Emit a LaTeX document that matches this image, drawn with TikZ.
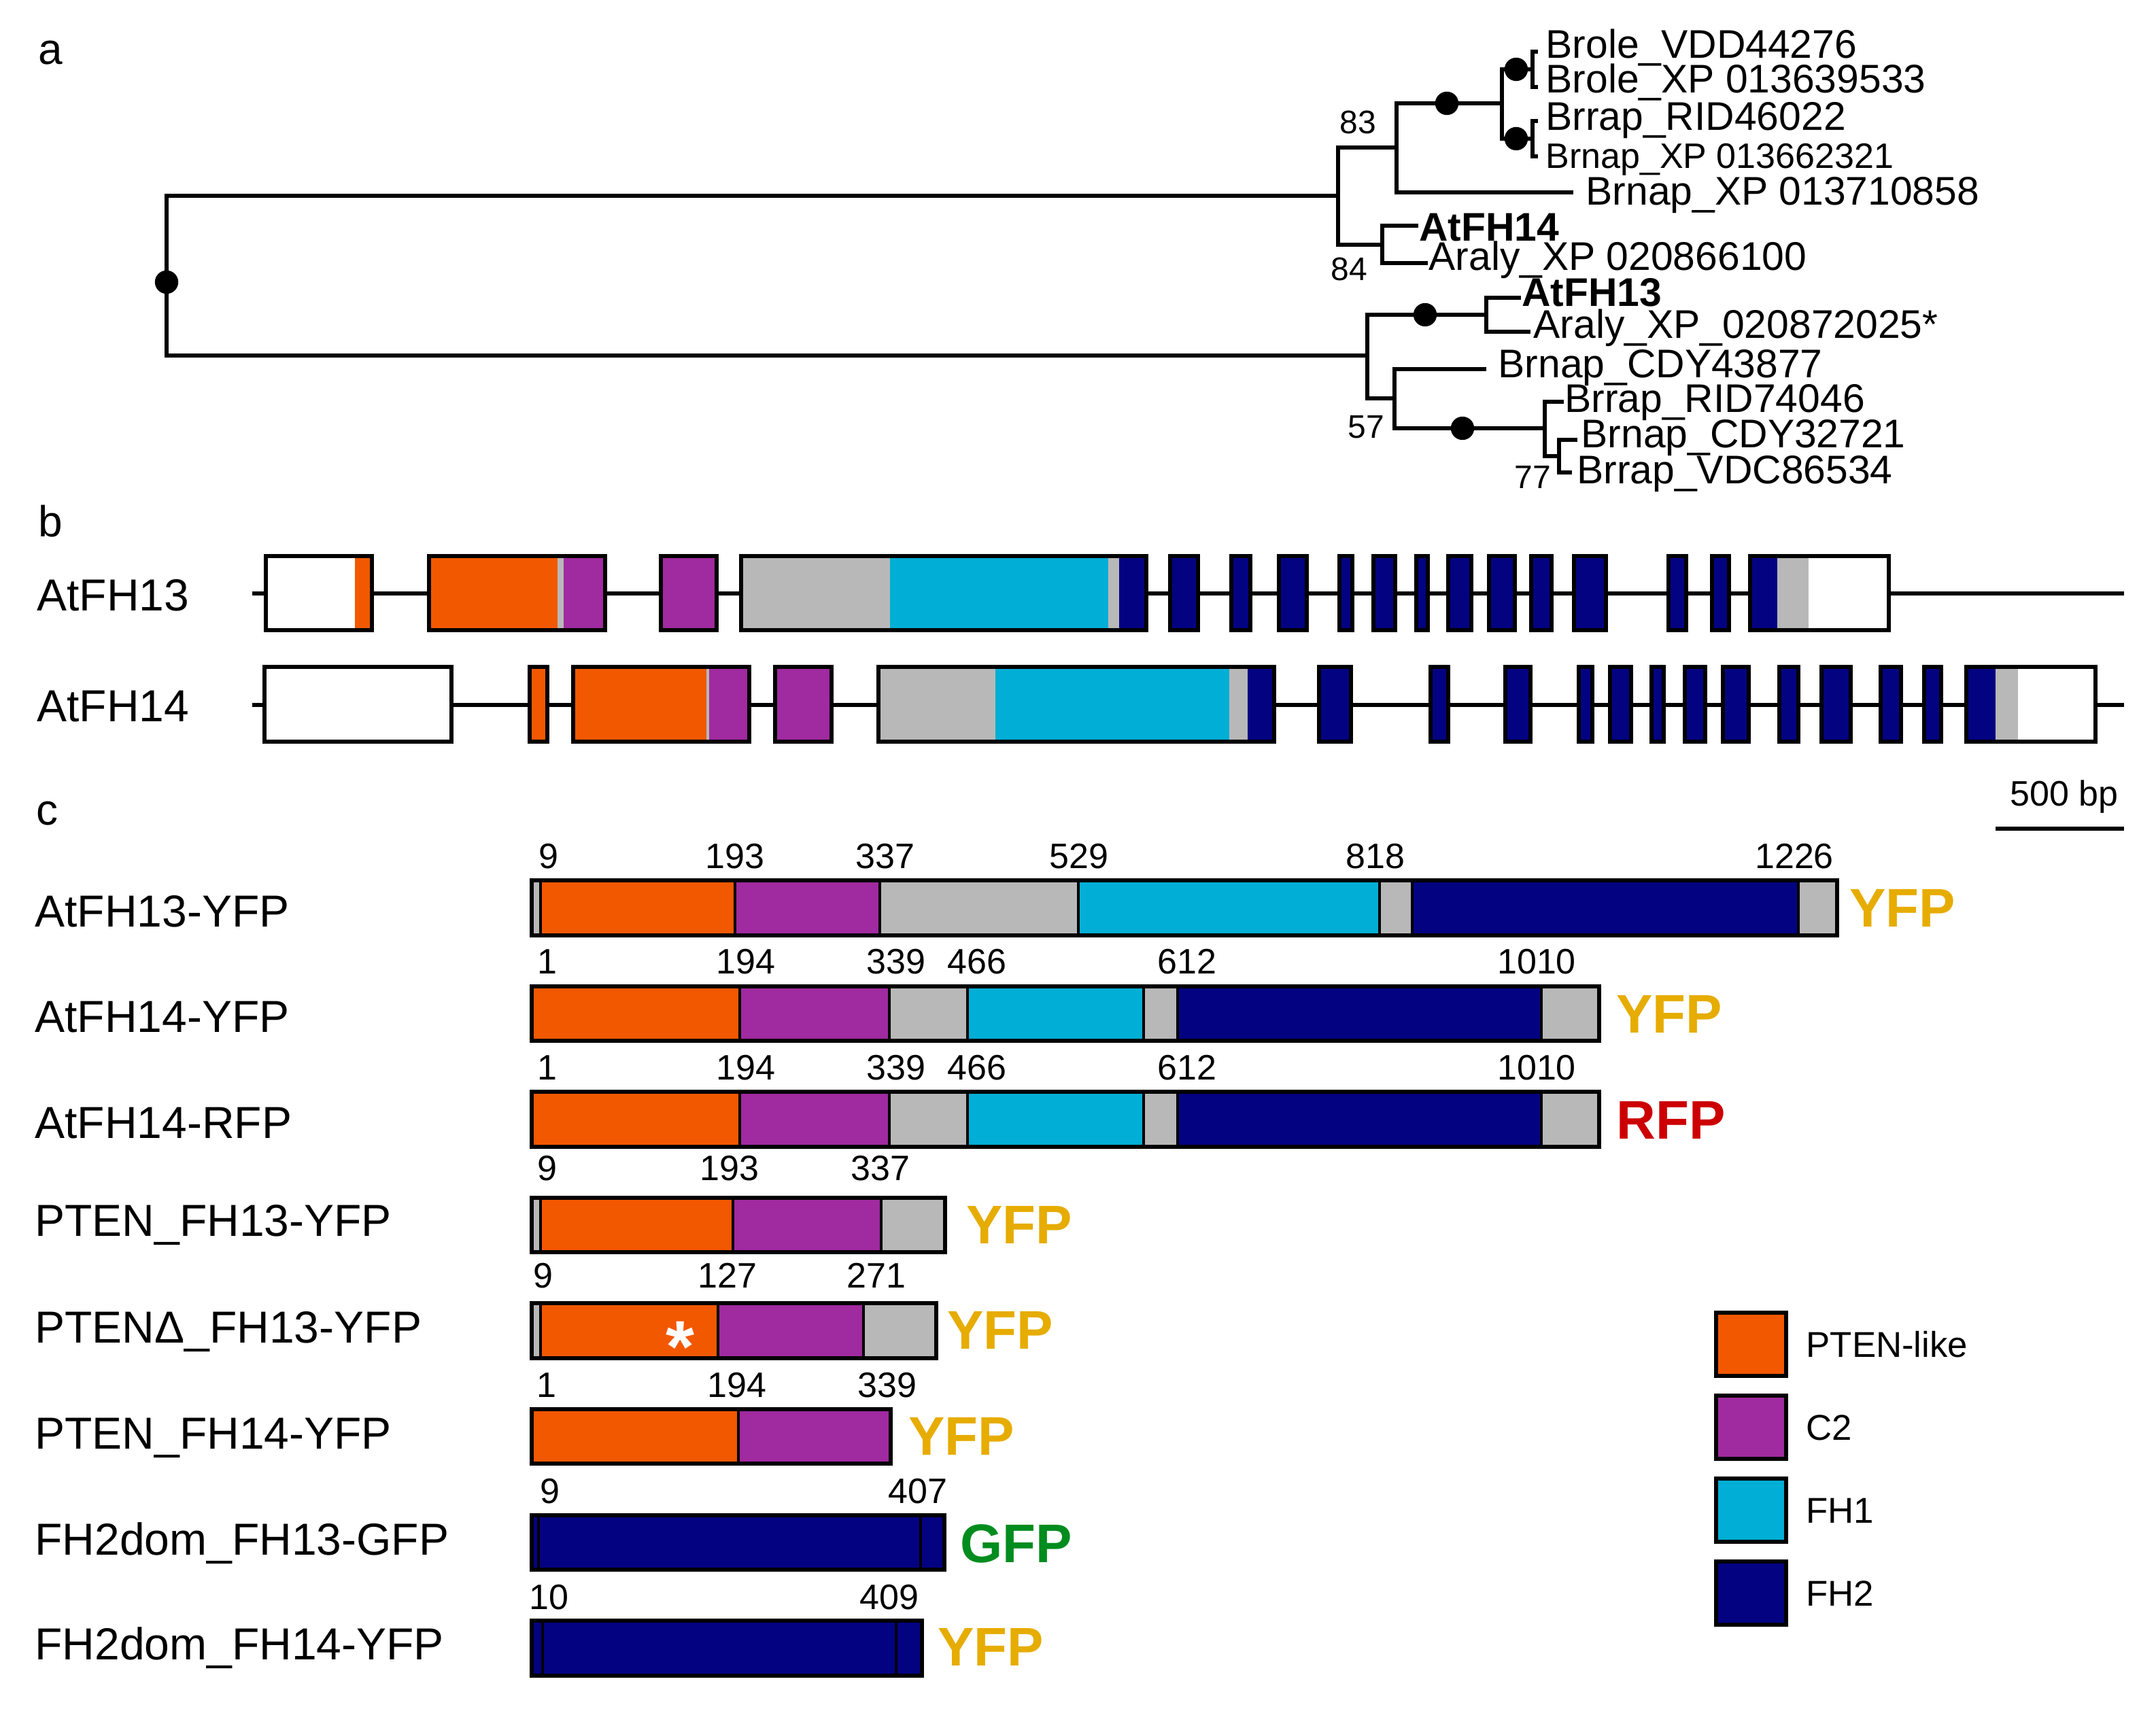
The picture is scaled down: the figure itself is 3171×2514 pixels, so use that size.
\documentclass[tikz,border=0pt]{standalone}
\usepackage{fontspec}
\setmainfont{Liberation Sans}

\definecolor{ptenorange}{RGB}{242,88,0}
\definecolor{ctwopurple}{RGB}{160,42,160}
\definecolor{linkgray}{RGB}{184,184,184}
\definecolor{fhonecyan}{RGB}{0,174,214}
\definecolor{fhtwonavy}{RGB}{3,3,130}
\definecolor{yfpgold}{RGB}{230,172,0}
\definecolor{rfpred}{RGB}{204,0,0}
\definecolor{gfpgreen}{RGB}{0,140,30}

\tikzset{every picture/.style={line width=0.75pt}}
\tikzset{
  branch/.style={line width=1.6pt},
  bsdot/.style={circle,fill=black,inner sep=0pt,minimum size=8.6pt},
  taxon/.style={anchor=base west,inner sep=0pt,font=\fontsize{14.7}{17}\selectfont},
  boot/.style={anchor=center,inner sep=0pt,font=\fontsize{12}{14}\selectfont},
  panel/.style={anchor=base west,inner sep=0pt,font=\fontsize{16}{19}\selectfont},
  rowlbl/.style={anchor=base west,inner sep=0pt,font=\fontsize{16.5}{19}\selectfont},
  intron/.style={line width=1.5pt},
  exon/.style={draw=black,line width=1.4pt},
  seg/.style={draw=black,line width=1.1pt},
  barframe/.style={draw=black,line width=1.6pt},
  resnum/.style={anchor=base,inner sep=0pt,font=\fontsize{13}{15}\selectfont},
  tag/.style={anchor=base west,inner sep=0pt,font=\fontsize{20}{24}\selectfont\bfseries},
  keybox/.style={draw=black,line width=1.6pt},
  keylbl/.style={anchor=base west,inner sep=0pt,font=\fontsize{13.2}{15}\selectfont},
}

\begin{document}
\begin{tikzpicture}[x=0.25pt,y=0.25pt,yscale=-1,xscale=1]
\useasboundingbox (0,0) rectangle (3171,2514);

%Panel letters
\draw (55,95) node [panel] (pa) {a};
\draw (55,789) node [panel] (pb) {b};
\draw (52,1213) node [panel] (pc) {c};

%Tree: internal nodes
\coordinate (root) at (245,415);
\coordinate (n84) at (1968,288);
\coordinate (n83) at (2054,217);
\coordinate (nbr) at (2209,152);
\coordinate (pr1) at (2254,102);
\coordinate (pr2) at (2254,204);
\coordinate (nat14) at (2033,360);
\coordinate (n57p) at (2011,523);
\coordinate (nat13) at (2186,463);
\coordinate (n57) at (2051,586);
\coordinate (nrid) at (2272,630);
\coordinate (n77) at (2293,671);
%Tree: tips
\coordinate (lvdd) at (2262,76);
\coordinate (lbxp) at (2262,128);
\coordinate (lrid46) at (2262,178);
\coordinate (lxp6623) at (2262,230);
\coordinate (lxp7108) at (2314,283);
\coordinate (lat14) at (2086,332);
\coordinate (lara1) at (2100,387);
\coordinate (lat13) at (2237,438);
\coordinate (lara2) at (2251,488);
\coordinate (lcdy438) at (2186,543);
\coordinate (lrid74) at (2300,591);
\coordinate (lcdy327) at (2320,647);
\coordinate (lvdc) at (2312,695);

\draw [branch] (root) |- (n84);
\draw [branch] (root) |- (n57p);
\draw [branch] (n84) |- (n83);
\draw [branch] (n84) |- (nat14);
\draw [branch] (n83) |- (nbr);
\draw [branch] (n83) |- (lxp7108);
\draw [branch] (nbr) |- (pr1);
\draw [branch] (nbr) |- (pr2);
\draw [branch] (pr1) |- (lvdd);
\draw [branch] (pr1) |- (lbxp);
\draw [branch] (pr2) |- (lrid46);
\draw [branch] (pr2) |- (lxp6623);
\draw [branch] (nat14) |- (lat14);
\draw [branch] (nat14) |- (lara1);
\draw [branch] (n57p) |- (nat13);
\draw [branch] (n57p) |- (n57);
\draw [branch] (nat13) |- (lat13);
\draw [branch] (nat13) |- (lara2);
\draw [branch] (n57) |- (lcdy438);
\draw [branch] (n57) |- (nrid);
\draw [branch] (nrid) |- (lrid74);
\draw [branch] (nrid) |- (n77);
\draw [branch] (n77) |- (lcdy327);
\draw [branch] (n77) |- (lvdc);

%Support dots
\node [bsdot] (droot) at (root) {};
\node [bsdot] (dbr) at (2128,152) {};
\node [bsdot] (dpr1) at (2230,102) {};
\node [bsdot] (dpr2) at (2230,204) {};
\node [bsdot] (dat13) at (2096,463) {};
\node [bsdot] (drid) at (2151,630) {};

%Bootstrap values
\draw (1997,180) node [boot] (b83) {83};
\draw (1984,396) node [boot] (b84) {84};
\draw (2009,628) node [boot] (b57) {57};
\draw (2254,702) node [boot] (b77) {77};

%Taxa
\draw (2272,86) node [taxon] (tvdd) {Brole\_VDD44276};
\draw (2272,137) node [taxon] (tbxp) {Brole\_XP 013639533};
\draw (2272,192) node [taxon] (trid46) {Brrap\_RID46022};
\draw (2272,248) node [taxon,font=\fontsize{13}{15}\selectfont] (txp6623) {Brnap\_XP 013662321};
\draw (2331,302) node [taxon] (txp7108) {Brnap\_XP 013710858};
\draw (2086,355) node [taxon,font=\fontsize{14.7}{17}\selectfont\bfseries] (tat14) {AtFH14};
\draw (2100,398) node [taxon] (tara1) {Araly\_XP 020866100};
\draw (2237,451) node [taxon,font=\fontsize{14.7}{17}\selectfont\bfseries] (tat13) {AtFH13};
\draw (2254,498) node [taxon] (tara2) {Araly\_XP\_020872025*};
\draw (2202,556) node [taxon] (tcdy438) {Brnap\_CDY43877};
\draw (2300,607) node [taxon] (trid74) {Brrap\_RID74046};
\draw (2324,658) node [taxon] (tcdy327) {Brnap\_CDY32721};
\draw (2318,712) node [taxon] (tvdc) {Brrap\_VDC86534};

%Gene models
\draw (53,898) node [rowlbl] (gat13) {AtFH13};
\draw (53,1061) node [rowlbl] (gat14) {AtFH14};
\draw [intron] (371,873) -- (3124,873);
\draw [intron] (371,1037) -- (3124,1037);

\foreach \a/\b/\c in {391/522/white,522/547/ptenorange,631/820/ptenorange,820/829/linkgray,829/890/ctwopurple,972/1054/ctwopurple,1090/1309/linkgray,1309/1630/fhonecyan,1630/1646/linkgray,1646/1686/fhtwonavy,1721/1762/fhtwonavy,1811/1839/fhtwonavy,1881/1922/fhtwonavy,1970/1989/fhtwonavy,2020/2052/fhtwonavy,2083/2100/fhtwonavy,2130/2164/fhtwonavy,2190/2228/fhtwonavy,2252/2282/fhtwonavy,2315/2362/fhtwonavy,2454/2480/fhtwonavy,2518/2543/fhtwonavy,2574/2614/fhtwonavy,2614/2660/linkgray,2660/2778/white}
  \fill [\c] (\a,818) rectangle (\b,927);
\foreach \a/\b in {391/547,631/890,972/1054,1090/1686,1721/1762,1811/1839,1881/1922,1970/1989,2020/2052,2083/2100,2130/2164,2190/2228,2252/2282,2315/2362,2454/2480,2518/2543,2574/2778}
  \draw [exon] (\a,818) rectangle (\b,927);

\foreach \a/\b/\c in {389/664/white,779/805/ptenorange,843/1039/ptenorange,1039/1043/linkgray,1043/1102/ctwopurple,1140/1223/ctwopurple,1292/1464/linkgray,1464/1808/fhonecyan,1808/1835/linkgray,1835/1874/fhtwonavy,1940/1987/fhtwonavy,2104/2130/fhtwonavy,2214/2251/fhtwonavy,2322/2342/fhtwonavy,2368/2399/fhtwonavy,2429/2447/fhtwonavy,2478/2508/fhtwonavy,2534/2572/fhtwonavy,2617/2645/fhtwonavy,2679/2722/fhtwonavy,2766/2796/fhtwonavy,2830/2855/fhtwonavy,2892/2935/fhtwonavy,2935/2968/linkgray,2968/3082/white}
  \fill [\c] (\a,981) rectangle (\b,1091);
\foreach \a/\b in {389/664,779/805,843/1102,1140/1223,1292/1874,1940/1987,2104/2130,2214/2251,2322/2342,2368/2399,2429/2447,2478/2508,2534/2572,2617/2645,2679/2722,2766/2796,2830/2855,2892/3082}
  \draw [exon] (\a,981) rectangle (\b,1091);

%Scale bar
\coordinate (sbl) at (2935,1219);
\coordinate (sbr) at (3124,1219);
\draw [line width=1.6pt] (sbl) -- (sbr);
\draw (3036,1185) node [resnum] (sbtxt) {500 bp};

%Constructs
\draw (50,1363) node [rowlbl] (c1) {AtFH13-YFP};
\draw (50,1518) node [rowlbl] (c2) {AtFH14-YFP};
\draw (50,1674) node [rowlbl] (c3) {AtFH14-RFP};
\draw (50,1818) node [rowlbl] (c4) {PTEN\_FH13-YFP};
\draw (50,1975) node [rowlbl] (c5) {PTENΔ\_FH13-YFP};
\draw (50,2131) node [rowlbl] (c6) {PTEN\_FH14-YFP};
\draw (50,2287) node [rowlbl] (c7) {FH2dom\_FH13-GFP};
\draw (50,2441) node [rowlbl] (c8) {FH2dom\_FH14-YFP};

%Shape: Bar AtFH13-YFP
\foreach \a/\b/\c in {782/795/linkgray,795/1081/ptenorange,1081/1294/ctwopurple,1294/1586/linkgray,1586/2029/fhonecyan,2029/2077/linkgray,2077/2645/fhtwonavy,2645/2702/linkgray}
  \draw [seg,fill=\c] (\a,1295) rectangle (\b,1376);
\draw [barframe] (782,1295) rectangle (2702,1376);
\foreach \x/\n in {807/9,1081/193,1302/337,1587/529,2023/818,2639/1226}
  \draw (\x,1277) node [resnum] (ra\n) {\n};
\draw (2719,1363) node [tag,text=yfpgold] (fa) {YFP};

%Shape: Bar AtFH14-YFP
\foreach \a/\b/\c in {782/1088/ptenorange,1088/1308/ctwopurple,1308/1423/linkgray,1423/1682/fhonecyan,1682/1732/linkgray,1732/2267/fhtwonavy,2267/2352/linkgray}
  \draw [seg,fill=\c] (\a,1451) rectangle (\b,1531);
\draw [barframe] (782,1451) rectangle (2352,1531);
\foreach \x/\n in {805/1,1097/194,1318/339,1437/466,1746/612,2260/1010}
  \draw (\x,1432) node [resnum] (rb\n) {\n};
\draw (2376,1519) node [tag,text=yfpgold] (fb) {YFP};

%Shape: Bar AtFH14-RFP
\foreach \a/\b/\c in {782/1088/ptenorange,1088/1308/ctwopurple,1308/1423/linkgray,1423/1682/fhonecyan,1682/1732/linkgray,1732/2267/fhtwonavy,2267/2352/linkgray}
  \draw [seg,fill=\c] (\a,1606) rectangle (\b,1687);
\draw [barframe] (782,1606) rectangle (2352,1687);
\foreach \x/\n in {805/1,1097/194,1318/339,1437/466,1746/612,2260/1010}
  \draw (\x,1588) node [resnum] (rc\n) {\n};
\draw (2376,1675) node [tag,text=rfpred] (fc) {RFP};

%Shape: Bar PTEN_FH13-YFP
\foreach \a/\b/\c in {782/795/linkgray,795/1078/ptenorange,1078/1296/ctwopurple,1296/1390/linkgray}
  \draw [seg,fill=\c] (\a,1762) rectangle (\b,1842);
\draw [barframe] (782,1762) rectangle (1390,1842);
\foreach \x/\n in {805/9,1073/193,1295/337}
  \draw (\x,1736) node [resnum] (rd\n) {\n};
\draw (1420,1829) node [tag,text=yfpgold] (fd) {YFP};

%Shape: Bar PTENdelta_FH13-YFP
\foreach \a/\b/\c in {782/795/linkgray,795/1056/ptenorange,1056/1270/ctwopurple,1270/1377/linkgray}
  \draw [seg,fill=\c] (\a,1917) rectangle (\b,1998);
\draw [barframe] (782,1917) rectangle (1377,1998);
\draw (1001,2018) node [anchor=base,inner sep=0pt,text=white,font=\fontsize{27}{30}\selectfont\bfseries] (mut) {*};
\foreach \x/\n in {799/9,1070/127,1289/271}
  \draw (\x,1894) node [resnum] (re\n) {\n};
\draw (1392,1984) node [tag,text=yfpgold] (fe) {YFP};

%Shape: Bar PTEN_FH14-YFP
\foreach \a/\b/\c in {782/1086/ptenorange,1086/1310/ctwopurple}
  \draw [seg,fill=\c] (\a,2073) rectangle (\b,2153);
\draw [barframe] (782,2073) rectangle (1310,2153);
\foreach \x/\n in {804/1,1084/194,1305/339}
  \draw (\x,2055) node [resnum] (rf\n) {\n};
\draw (1335,2140) node [tag,text=yfpgold] (ff) {YFP};

%Shape: Bar FH2dom_FH13-GFP
\foreach \a/\b in {782/792,792/1354,1354/1389}
  \draw [seg,fill=fhtwonavy] (\a,2229) rectangle (\b,2309);
\draw [barframe] (782,2229) rectangle (1389,2309);
\foreach \x/\n in {809/9,1350/407}
  \draw (\x,2211) node [resnum] (rg\n) {\n};
\draw (1411,2298) node [tag,text=gfpgreen] (fg) {GFP};

%Shape: Bar FH2dom_FH14-YFP
\foreach \a/\b in {782/798,798/1318,1318/1356}
  \draw [seg,fill=fhtwonavy] (\a,2384) rectangle (\b,2465);
\draw [barframe] (782,2384) rectangle (1356,2465);
\foreach \x/\n in {807/10,1308/409}
  \draw (\x,2367) node [resnum] (rh\n) {\n};
\draw (1378,2450) node [tag,text=yfpgold] (fh) {YFP};

%Legend
\draw [keybox,fill=ptenorange] (2524,1931) rectangle (2627,2024);
\draw [keybox,fill=ctwopurple] (2524,2053) rectangle (2627,2146);
\draw [keybox,fill=fhonecyan] (2524,2175) rectangle (2627,2268);
\draw [keybox,fill=fhtwonavy] (2524,2297) rectangle (2627,2390);
\draw (2655,1996) node [keylbl] (kpten) {PTEN-like};
\draw (2655,2118) node [keylbl] (kc2) {C2};
\draw (2655,2240) node [keylbl] (kfh1) {FH1};
\draw (2655,2362) node [keylbl] (kfh2) {FH2};
\end{tikzpicture}
\end{document}
